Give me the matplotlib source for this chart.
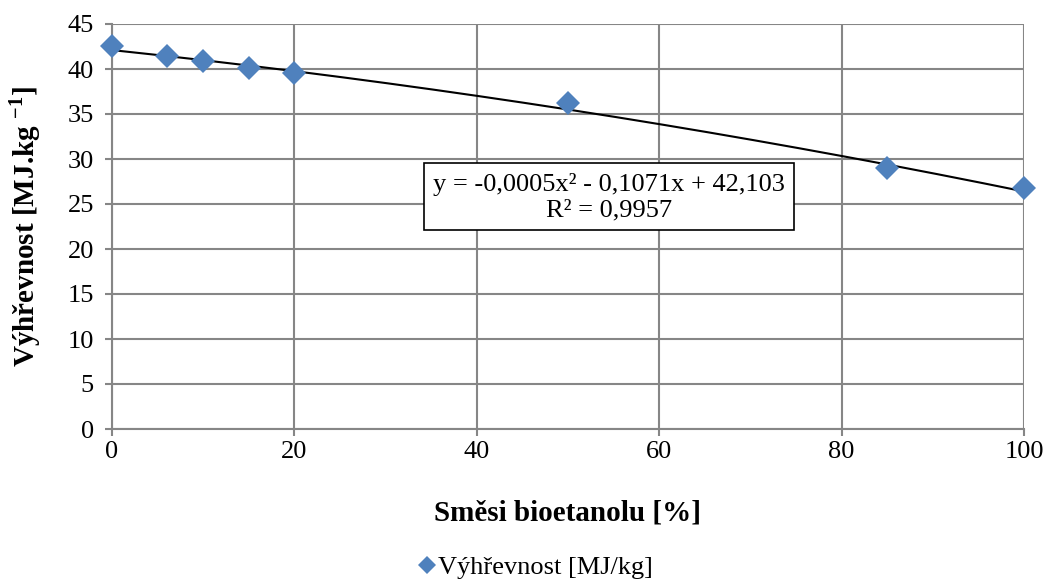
import numpy as np
import matplotlib
matplotlib.use("Agg")
import matplotlib.pyplot as plt

plt.rcParams['font.family'] = ['Liberation Serif', 'DejaVu Serif']
plt.rcParams['mathtext.fontset'] = 'custom'
plt.rcParams['mathtext.rm'] = 'Liberation Serif'
plt.rcParams['mathtext.bf'] = 'Liberation Serif:bold'

blend_pct = [0, 6, 10, 15, 20, 50, 85, 100]
heating_value = [42.56, 41.4, 40.9, 40.1, 39.55, 36.2, 29.05, 26.8]
trend_coeffs = [-0.0005, -0.1071, 42.103]
x_ticks = [0, 20, 40, 60, 80, 100]
y_ticks = [0, 5, 10, 15, 20, 25, 30, 35, 40, 45]

grid_c = '#868686'
fig = plt.figure(figsize=(10.47, 5.80), dpi=100)
ax = fig.add_axes([112/1047, 1-429/580, (1024-112)/1047, (429-24)/580])

ax.set_xlim(0, 100)
ax.set_ylim(0, 45)
ax.set_xticks(x_ticks)
ax.set_yticks(y_ticks)
ax.grid(True, color=grid_c, linewidth=1.5)
ax.set_axisbelow(True)
for s in ['top', 'right']:
    ax.spines[s].set_visible(False)
for s in ['left', 'bottom']:
    ax.spines[s].set_color(grid_c)
    ax.spines[s].set_linewidth(1.5)
ax.tick_params(axis='both', colors=grid_c, length=5, width=1.5, labelsize=19, labelcolor='black')
ax.tick_params(axis='x', pad=4)
ax.tick_params(axis='y', pad=8)

xs = np.linspace(0, 100, 200)
ax.plot(xs, np.polyval(trend_coeffs, xs), color='black', linewidth=1.5, zorder=3)
ax.plot(blend_pct, heating_value, linestyle='none', marker='D', markersize=12,
        color='#4F81BD', markeredgewidth=0, clip_on=False, zorder=4,
        label='Výhřevnost [MJ/kg]')

ax.text(0.545, 0.573, 'y = -0,0005x² - 0,1071x + 42,103\nR² = 0,9957',
        transform=ax.transAxes, ha='center', va='center', fontsize=19,
        linespacing=1.2,
        bbox=dict(boxstyle='square,pad=0.35', facecolor='white', edgecolor='black', linewidth=1.2),
        zorder=5)

ax.set_xlabel('Směsi bioetanolu [%]', fontsize=21, fontweight='bold', labelpad=26)
ax.set_ylabel(r'Výhřevnost [MJ.kg $^{\mathbf{-1}}$]', fontsize=21, fontweight='bold', labelpad=18)

fig.legend(loc='center', bbox_to_anchor=(530/1047, 1-567/580), frameon=False,
           fontsize=19, handletextpad=-0.3, markerscale=0.8, handlelength=1.5)

fig.savefig('out.png', dpi=100)
